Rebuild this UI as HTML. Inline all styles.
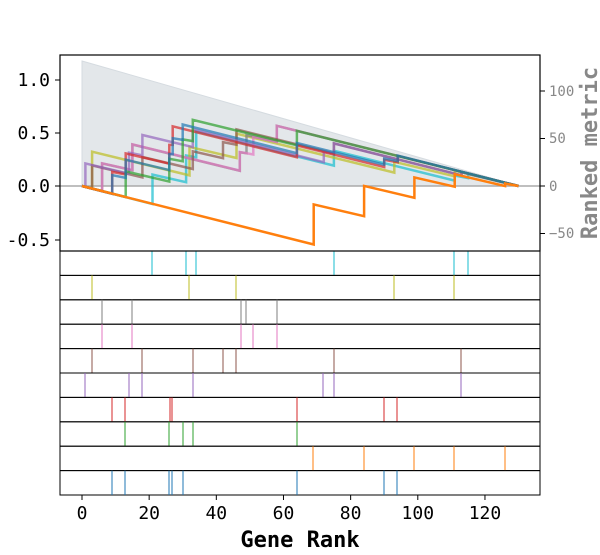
<!DOCTYPE html>
<html><head><meta charset="utf-8"><style>
body{margin:0;background:#fff}
svg text{font-family:"DejaVu Sans Mono","Liberation Mono",monospace}
</style></head><body>
<svg id="s" width="600" height="550" xmlns="http://www.w3.org/2000/svg">
<polygon points="82,61 519,186 82,186" fill="#e3e7ea" stroke="#d5dbe0"/>
<line x1="60" y1="186" x2="540" y2="186" stroke="#aaa" stroke-width="1.5"/>
<g id="curves"></g>
<g id="strips"></g>
<rect x="60" y="55" width="480" height="196" fill="none" stroke="#000" stroke-width="1.2"/>
<g font-size="18" fill="#000" text-anchor="end">
<text x="50" y="86">1.0</text><text x="50" y="139">0.5</text><text x="50" y="192">0.0</text><text x="50" y="246">-0.5</text>
</g>
<g stroke="#000"><line x1="55" y1="80" x2="60" y2="80"/><line x1="55" y1="133" x2="60" y2="133"/><line x1="55" y1="186" x2="60" y2="186"/><line x1="55" y1="240" x2="60" y2="240"/>
<line x1="540" y1="91" x2="545" y2="91"/><line x1="540" y1="138.5" x2="545" y2="138.5"/><line x1="540" y1="186" x2="545" y2="186"/><line x1="540" y1="233.5" x2="545" y2="233.5"/></g>
<g font-size="14" fill="#888"><text x="549" y="96">100</text><text x="549" y="143">50</text><text x="549" y="191">0</text><text x="549" y="238">−50</text></g>
<text transform="translate(597,153) rotate(-90)" font-size="22" font-weight="bold" fill="#888" text-anchor="middle">Ranked metric</text>
<g id="xt" font-size="18" text-anchor="middle"></g>
<text x="300" y="547" font-size="22" font-weight="bold" text-anchor="middle">Gene Rank</text>
</svg>
<script>
var NS="http://www.w3.org/2000/svg";
function X(r){return 82+r*3.358}
var cols=["#17becf","#bcbd22","#7f7f7f","#e377c2","#8c564b","#9467bd","#d62728","#2ca02c","#ff7f0e","#1f77b4"];
var hitsPx=[[152,186,196,334,454,468],[92,189,236,394,454],[102,132,241,246,277],[102,132,241,253,277],[92,142,193,223,236,334,461],[85,129,142,193,323,334,461],[112,125,170,172,297,384,397],[125,169,183,193,297],[313,364,414,454,505],[112,125,169,172,183,297,384,397]];
var N=130,cg=document.getElementById("curves"),sg=document.getElementById("strips");
function m(r){return 131.6*(1-r/130)}
var order=[0,1,2,3,4,5,6,7,9,8];
order.forEach(function(k){
 var hs=hitsPx[k].map(function(p){return Math.round((p-82)/3.358)});
 var sum=0;hs.forEach(function(r){sum+=m(r)});
 var miss=1/(N-hs.length),v=0,pts=[[0,0]];
 for(var r=0;r<N;r++){ if(hs.indexOf(r)>=0){pts.push([r,v]);v+=m(r)/sum;pts.push([r,v]);} else {v-=miss;} }
 pts.push([N,v]);
 var p=document.createElementNS(NS,"polyline");
 p.setAttribute("points",pts.map(function(q){return X(q[0]).toFixed(1)+","+(186-q[1]*106).toFixed(1)}).join(" "));
 p.setAttribute("fill","none");p.setAttribute("stroke",cols[k]);p.setAttribute("stroke-width","2.5");
 p.setAttribute("opacity",k==8?"1":"0.7");cg.appendChild(p);
});
for(var i=0;i<10;i++){
 var y0=251+i*24.4;
 var rc=document.createElementNS(NS,"rect");rc.setAttribute("x",60);rc.setAttribute("y",y0);rc.setAttribute("width",480);rc.setAttribute("height",24.4);rc.setAttribute("fill","none");rc.setAttribute("stroke","#000");sg.appendChild(rc);
 hitsPx[i].forEach(function(p){var l=document.createElementNS(NS,"line");l.setAttribute("x1",p);l.setAttribute("x2",p);l.setAttribute("y1",y0);l.setAttribute("y2",y0+24.4);l.setAttribute("stroke",cols[i]);l.setAttribute("stroke-width","1");sg.appendChild(l);});
}
var xt=document.getElementById("xt");
[0,20,40,60,80,100,120].forEach(function(t){var x=X(t);
 var l=document.createElementNS(NS,"line");l.setAttribute("x1",x);l.setAttribute("x2",x);l.setAttribute("y1",495);l.setAttribute("y2",500);l.setAttribute("stroke","#000");xt.appendChild(l);
 var tx=document.createElementNS(NS,"text");tx.setAttribute("x",x);tx.setAttribute("y",519);tx.textContent=t;xt.appendChild(tx);});
</script>
</body></html>
